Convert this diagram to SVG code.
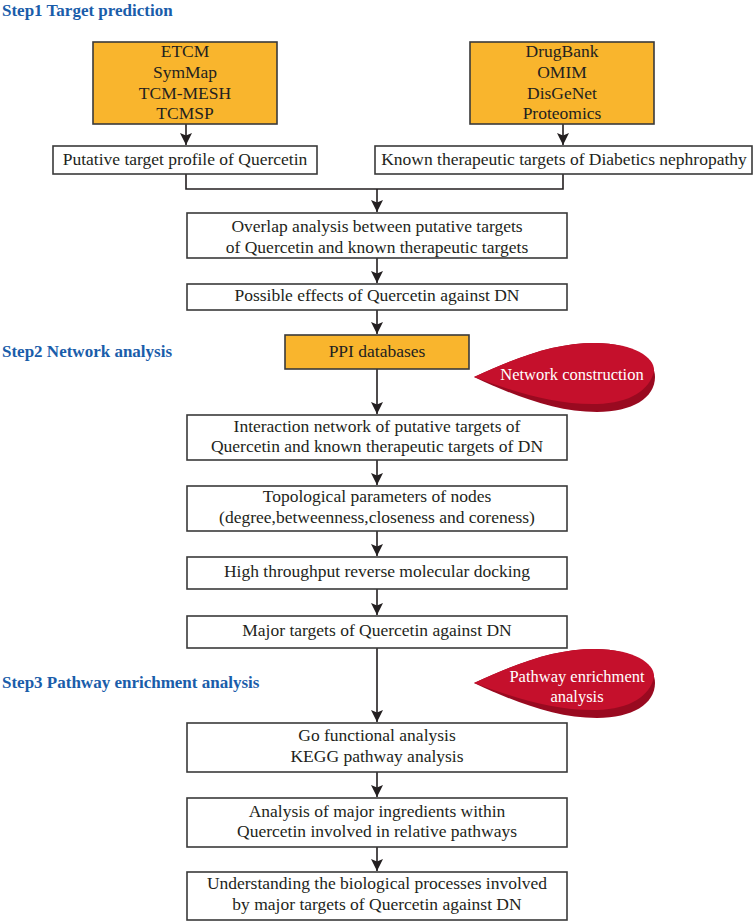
<svg xmlns="http://www.w3.org/2000/svg" width="754" height="922" viewBox="0 0 754 922">
<defs>
<marker id="ah" markerUnits="userSpaceOnUse" markerWidth="12" markerHeight="12" refX="12" refY="6" orient="auto">
<path d="M0,0 L12,6 L0,12 L2.5,6 Z" fill="#231f20"/>
</marker>
<style>
.box{fill:#ffffff;stroke:#3a3a3a;stroke-width:1.6}
.obox{fill:#f9b52d;stroke:#3a3a3a;stroke-width:1.6}
.t{font-family:"Liberation Serif","Times New Roman",serif;font-size:17.5px;fill:#231f20;text-anchor:middle}
.w{font-family:"Liberation Serif","Times New Roman",serif;font-size:16.5px;fill:#ffffff;text-anchor:middle}
.step{font-family:"Liberation Serif","Times New Roman",serif;font-size:17px;font-weight:bold;fill:#1a5daa}
.c{fill:none;stroke:#231f20;stroke-width:1.6}
.ca{fill:none;stroke:#231f20;stroke-width:1.6;marker-end:url(#ah)}
.dark{fill:#990a20}
.red{fill:#c5102c}
</style>
</defs>
<rect width="754" height="922" fill="#ffffff"/>

<g id="titles">
<text class="step" x="2" y="15.5">Step1 Target prediction</text>
<text class="step" x="2" y="357">Step2 Network analysis</text>
<text class="step" x="2" y="688">Step3 Pathway enrichment analysis</text>
</g>

<g id="connectors">
<path class="ca" d="M186,124 V145"/>
<path class="ca" d="M563,124 V145"/>
<path class="c" d="M186,174 V189 H563 V174"/>
<path class="ca" d="M377,189 V212"/>
<path class="ca" d="M377,258 V283"/>
<path class="ca" d="M377,310 V334"/>
<path class="ca" d="M377,369 V414"/>
<path class="ca" d="M377,460 V485"/>
<path class="ca" d="M377,531 V556"/>
<path class="ca" d="M377,589 V615"/>
<path class="ca" d="M377,648 V722"/>
<path class="ca" d="M377,772 V797"/>
<path class="ca" d="M377,847 V871"/>
</g>

<g id="db1">
<rect class="obox" x="93" y="42" width="184" height="82"/>
<text class="t" x="185" y="57">ETCM</text>
<text class="t" x="185" y="78">SymMap</text>
<text class="t" x="185" y="99">TCM-MESH</text>
<text class="t" x="185" y="119">TCMSP</text>
</g>

<g id="db2">
<rect class="obox" x="470" y="42" width="184" height="82"/>
<text class="t" x="562" y="57">DrugBank</text>
<text class="t" x="562" y="78">OMIM</text>
<text class="t" x="562" y="99">DisGeNet</text>
<text class="t" x="562" y="119">Proteomics</text>
</g>

<g id="putative">
<rect class="box" x="53" y="146" width="264" height="28"/>
<text class="t" x="185" y="165">Putative target profile of Quercetin</text>
</g>

<g id="known">
<rect class="box" x="375" y="146" width="377" height="28"/>
<text class="t" x="564" y="165">Known therapeutic targets of Diabetics nephropathy</text>
</g>

<g id="overlap">
<rect class="box" x="187" y="213" width="380" height="45"/>
<text class="t" x="377" y="232">Overlap analysis between putative targets</text>
<text class="t" x="377" y="253">of Quercetin and known therapeutic targets</text>
</g>

<g id="possible">
<rect class="box" x="187" y="284" width="380" height="26"/>
<text class="t" x="377" y="301">Possible effects of Quercetin against DN</text>
</g>

<g id="ppi">
<rect class="obox" x="285" y="335" width="184" height="34"/>
<text class="t" x="377" y="357">PPI databases</text>
</g>

<g id="network-construction">
<path class="dark" d="M474,377 C520,356 555,343 595,343 C635,343 655,360 655,377 C655,398 632,412 597,412 C555,412 515,396 474,377 Z"/>
<path class="red" d="M474,377 C520,356 555,343 595,343 C635,343 655,358 654,371 C650,390 630,403 597,404 C555,405 515,392 474,377 Z"/>
<text class="w" x="572" y="380">Network construction</text>
</g>

<g id="interaction">
<rect class="box" x="187" y="415" width="380" height="45"/>
<text class="t" x="377" y="432">Interaction network of putative targets of</text>
<text class="t" x="377" y="452">Quercetin and known therapeutic targets of DN</text>
</g>

<g id="topological">
<rect class="box" x="187" y="486" width="380" height="45"/>
<text class="t" x="377" y="502">Topological parameters of nodes</text>
<text class="t" x="377" y="523">(degree,betweenness,closeness and coreness)</text>
</g>

<g id="docking">
<rect class="box" x="187" y="557" width="380" height="32"/>
<text class="t" x="377" y="577">High throughput reverse molecular docking</text>
</g>

<g id="major">
<rect class="box" x="187" y="616" width="380" height="32"/>
<text class="t" x="377" y="636">Major targets of Quercetin against DN</text>
</g>

<g id="pathway-enrichment">
<path class="dark" d="M474,683 C520,662 555,649 595,649 C635,649 655,666 655,683 C655,704 632,718 597,718 C555,718 515,702 474,683 Z"/>
<path class="red" d="M474,683 C520,662 555,649 595,649 C635,649 655,664 654,677 C650,696 630,709 597,710 C555,711 515,698 474,683 Z"/>
<text class="w" x="577" y="682">Pathway enrichment</text>
<text class="w" x="577" y="702">analysis</text>
</g>

<g id="go">
<rect class="box" x="187" y="723" width="380" height="49"/>
<text class="t" x="377" y="741">Go functional analysis</text>
<text class="t" x="377" y="762">KEGG pathway analysis</text>
</g>

<g id="ingredients">
<rect class="box" x="187" y="798" width="380" height="49"/>
<text class="t" x="377" y="817">Analysis of major ingredients within</text>
<text class="t" x="377" y="837">Quercetin involved in relative pathways</text>
</g>

<g id="understanding">
<rect class="box" x="187" y="872" width="380" height="48"/>
<text class="t" x="377" y="889">Understanding the biological processes involved</text>
<text class="t" x="377" y="910">by major targets of Quercetin against DN</text>
</g>
</svg>
